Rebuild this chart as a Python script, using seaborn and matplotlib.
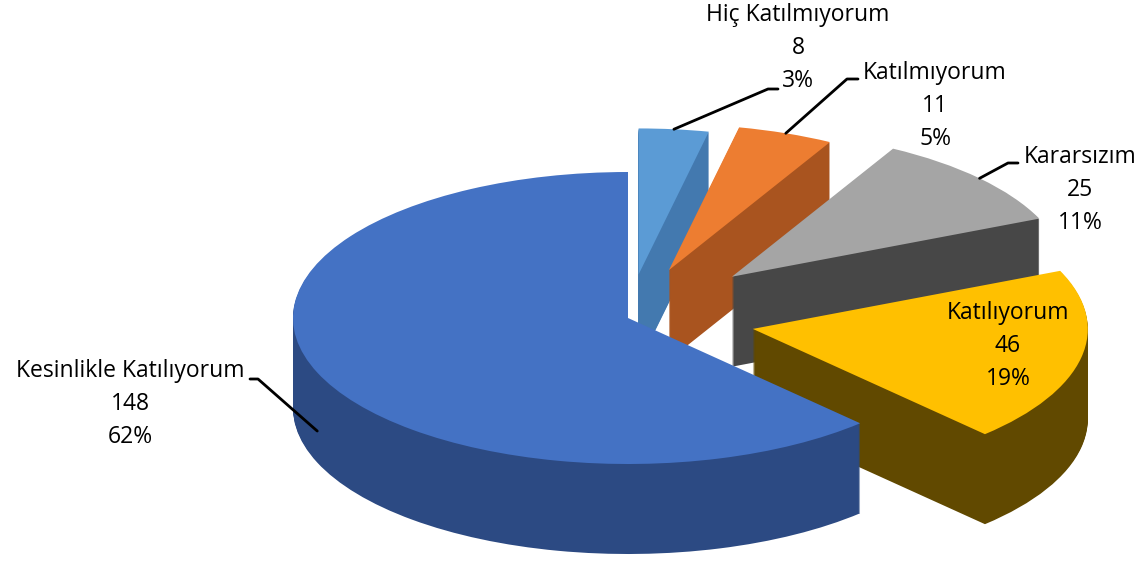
import numpy as np
import matplotlib
matplotlib.use("Agg")
import matplotlib.pyplot as plt
import seaborn as sns

# ── data ─────────────────────────────────────────────
categories = ["Hiç Katılmıyorum", "Katılmıyorum", "Kararsızım",
              "Katılıyorum", "Kesinlikle Katılıyorum"]
counts = [8, 11, 25, 46, 148]

top_colors = ["#5B9BD5", "#ED7D31", "#A5A5A5", "#FFC000", "#4472C4"]
side_colors = ["#4379AF", "#A9541F", "#474747", "#614900", "#2C4A83"]
explode = [0.30, 0.35, 0.42, 0.38, 0.0]

# ── style ────────────────────────────────────────────
sns.set_style("white")
plt.rcParams["font.family"] = ["Open Sans", "DejaVu Sans"]

W, H = 1138, 561
CX, CY = 628, 318      # pie centre in pixels
RX, RY = 335, 146      # ellipse radii in pixels
DEPTH = 90             # thickness in pixels


def to(px, py):
    # pixel position -> data coords (pie radius = 1)
    return (px - CX) / RX, (CY - py) / RY


fig = plt.figure(figsize=(W / 100, H / 100), dpi=100)
ax = fig.add_axes([0, 0, 1, 1])

# side walls: stacked layers from bottom to top
for k in range(DEPTH, 0, -1):
    ax.pie(counts, explode=explode, colors=side_colors, startangle=90,
           counterclock=False, radius=1, center=(0, -k / RY),
           wedgeprops=dict(linewidth=0, antialiased=True))

# top face
wedges, _ = ax.pie(counts, explode=explode, colors=top_colors, startangle=90,
                   counterclock=False, radius=1, center=(0, 0),
                   wedgeprops=dict(linewidth=0))

x0, y0 = to(0, H)
x1, y1 = to(W, 0)
ax.set_aspect("auto")
ax.set_xlim(x0, x1)
ax.set_ylim(y0, y1)
ax.axis("off")

# ── labels ───────────────────────────────────────────
total = sum(counts)
label_pos = [(798, 48), (935, 106), (1080, 190), (1008, 346), (130, 404)]
leaders = [[(768, 89), (778, 89)],
           [(847, 79), (858, 79)],
           [(1008, 163), (1018, 163)],
           None,
           [(258, 379), (250, 379)]]

for w, name, c, pos, lead in zip(wedges, categories, counts, label_pos, leaders):
    txt = f"{name}\n{c}\n{c / total:.0%}"
    tx, ty = to(*pos)
    ax.text(tx, ty, txt, ha="center", va="center", fontsize=16.5,
            linespacing=1.5, color="black")
    if lead is None:
        continue
    mid = np.deg2rad((w.theta1 + w.theta2) / 2)
    ax_x = w.center[0] + w.r * np.cos(mid)
    ax_y = w.center[1] + w.r * np.sin(mid)
    if name == "Kesinlikle Katılıyorum":
        ax_y -= 0.65 * DEPTH / RY
    pts = [(ax_x, ax_y)] + [to(*p) for p in lead]
    xs, ys = zip(*pts)
    ax.plot(xs, ys, color="black", lw=2)

plt.savefig("out.png", dpi=100)
